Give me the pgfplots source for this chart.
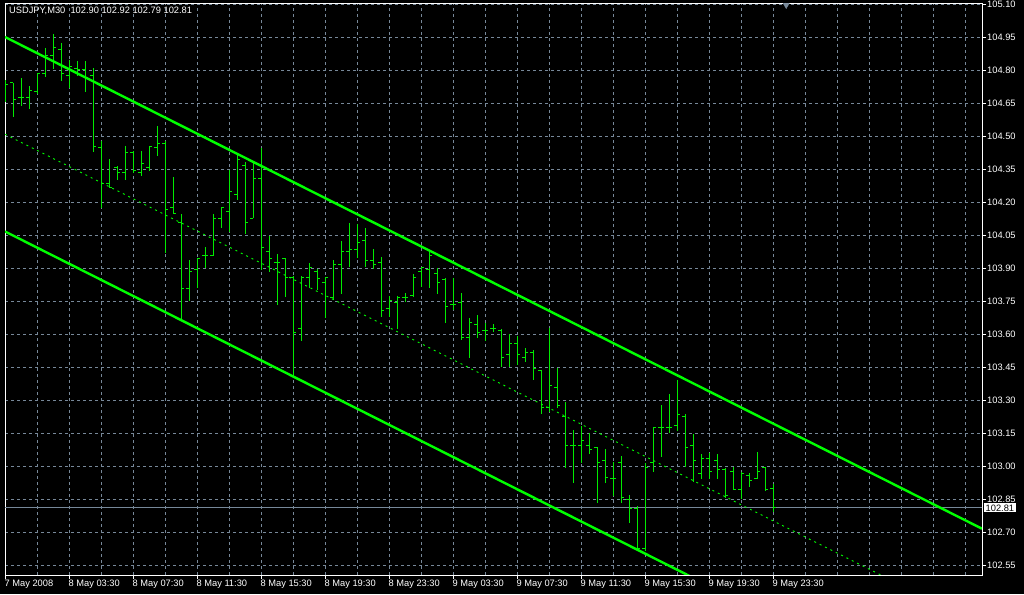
\documentclass[border=0pt]{standalone}
\usepackage{pgfplots}
\usepackage{pgfplotstable}
\usepackage{fontspec}
\setmainfont{Liberation Sans}
\pgfplotsset{compat=1.18}

\definecolor{bg}{RGB}{0,0,0}
\definecolor{gridc}{RGB}{119,136,153}
\definecolor{chan}{RGB}{0,255,0}
\definecolor{barc}{RGB}{0,235,0}

% half ticks for open (left) and close (right)
\pgfdeclareplotmark{ohlcopen}{\pgfpathmoveto{\pgfqpoint{-3pt}{0pt}}\pgfpathlineto{\pgfqpoint{0pt}{0pt}}\pgfusepathqstroke}
\pgfdeclareplotmark{ohlcclose}{\pgfpathmoveto{\pgfqpoint{0pt}{0pt}}\pgfpathlineto{\pgfqpoint{3pt}{0pt}}\pgfusepathqstroke}

% USDJPY M30, bar index from 7 May 23:30
\pgfplotstableread{
i O H L C
0 104.709 104.755 104.656 104.732
1 104.741 104.741 104.586 104.668
2 104.673 104.764 104.636 104.673
3 104.673 104.727 104.623 104.709
4 104.700 104.786 104.691 104.782
5 104.786 104.900 104.768 104.868
6 104.868 104.964 104.805 104.900
7 104.895 104.923 104.750 104.782
8 104.773 104.846 104.718 104.814
9 104.809 104.841 104.773 104.800
10 104.800 104.841 104.700 104.764
11 104.773 104.809 104.427 104.450
12 104.446 104.477 104.173 104.286
13 104.282 104.395 104.264 104.268
14 104.359 104.364 104.300 104.336
15 104.332 104.455 104.300 104.427
16 104.427 104.432 104.332 104.341
17 104.336 104.432 104.318 104.373
18 104.355 104.455 104.341 104.450
19 104.446 104.545 104.409 104.468
20 104.468 104.477 103.968 104.164
21 104.173 104.314 104.146 104.146
22 104.109 104.146 103.664 103.805
23 103.809 103.936 103.750 103.886
24 103.895 103.945 103.809 103.945
25 103.955 103.995 103.900 103.955
26 103.955 104.146 103.955 104.123
27 104.127 104.177 104.082 104.173
28 104.155 104.346 104.064 104.246
29 104.232 104.414 104.209 104.391
30 104.368 104.382 104.055 104.109
31 104.127 104.382 104.127 104.309
32 104.309 104.446 103.891 103.991
33 103.977 104.046 103.882 103.945
34 103.927 103.964 103.732 103.923
35 103.941 103.945 103.768 103.859
36 103.859 103.864 103.409 103.609
37 103.623 103.864 103.568 103.859
38 103.859 103.923 103.809 103.900
39 103.886 103.895 103.800 103.850
40 103.832 103.859 103.673 103.855
41 103.764 103.936 103.755 103.914
42 103.914 104.023 103.782 103.973
43 103.977 104.105 103.905 103.986
44 103.986 104.100 103.945 104.014
45 104.027 104.082 103.905 103.936
46 103.936 103.986 103.895 103.914
47 103.923 103.950 103.677 103.705
48 103.714 103.773 103.677 103.750
49 103.745 103.773 103.623 103.768
50 103.764 103.786 103.745 103.764
51 103.773 103.873 103.768 103.859
52 103.882 103.905 103.814 103.900
53 103.895 103.973 103.809 103.955
54 103.873 103.900 103.782 103.836
55 103.846 103.855 103.650 103.723
56 103.736 103.855 103.709 103.736
57 103.745 103.786 103.573 103.582
58 103.582 103.673 103.491 103.650
59 103.645 103.686 103.582 103.605
60 103.614 103.650 103.568 103.614
61 103.623 103.645 103.609 103.623
62 103.614 103.623 103.450 103.495
63 103.505 103.600 103.450 103.559
64 103.555 103.591 103.459 103.505
65 103.495 103.536 103.473 103.514
66 103.514 103.527 103.391 103.445
67 103.436 103.436 103.236 103.264
68 103.268 103.627 103.245 103.364
69 103.355 103.445 103.264 103.277
70 103.227 103.291 102.991 103.091
71 103.091 103.164 102.923 103.091
72 103.091 103.182 103.014 103.118
73 103.091 103.150 103.055 103.077
74 103.086 103.086 102.832 103.018
75 103.027 103.077 102.923 102.950
76 102.945 103.018 102.864 102.945
77 103.018 103.045 102.832 102.855
78 102.850 102.868 102.741 102.805
79 102.805 102.818 102.623 102.627
80 102.623 103.014 102.614 102.995
81 103.014 103.177 102.973 103.173
82 103.177 103.277 103.041 103.177
83 103.177 103.327 103.150 103.177
84 103.186 103.391 103.159 103.236
85 103.227 103.236 102.995 103.086
86 103.091 103.146 102.927 103.027
87 102.968 103.055 102.941 103.036
88 103.036 103.059 102.941 102.977
89 103.027 103.055 102.941 102.986
90 102.982 102.991 102.855 102.864
91 102.973 102.995 102.895 102.895
92 102.891 102.973 102.850 102.964
93 102.959 102.968 102.905 102.936
94 102.945 103.064 102.941 102.973
95 102.991 102.995 102.886 102.895
96 102.900 102.920 102.790 102.810
}\ohlc

\begin{document}
\begin{tikzpicture}
\path[fill=bg, use as bounding box] (0,0) rectangle (1024pt,594pt);
\begin{axis}[
  scale only axis, width=977pt, height=572pt,
  at={(5pt,19pt)}, anchor=south west,
  xmin=-0.05, xmax=122.075,
  ymin=102.5046, ymax=105.1045,
  axis line style={white, line width=0.8pt},
  font=\fontsize{9.3}{11}\selectfont,
  /pgf/number format/assume math mode=true,
  xtick={0,8,...,96},
  xticklabels={7 May 2008, 8 May 03:30, 8 May 07:30, 8 May 11:30, 8 May 15:30, 8 May 19:30, 8 May 23:30, 9 May 03:30, 9 May 07:30, 9 May 11:30, 9 May 15:30, 9 May 19:30, 9 May 23:30},
  minor xtick={4,12,20,28,36,44,52,60,68,76,84,92,100,104,108,112,116,120},
  ytick={102.55,102.70,102.85,103.00,103.15,103.30,103.45,103.60,103.75,103.90,104.05,104.20,104.35,104.50,104.65,104.80,104.95,105.10},
  yticklabels={102.55,102.70,102.85,103.00,103.15,103.30,103.45,103.60,103.75,103.90,104.05,104.20,104.35,104.50,104.65,104.80,104.95,105.10},
  xtick pos=bottom, ytick pos=right, yticklabel pos=right,
  tick align=outside, major tick length=4pt, minor tick length=0pt,
  tick style={white, line width=0.8pt},
  grid=both,
  grid style={gridc, line width=0.7pt, dash pattern=on 3pt off 3pt},
  minor grid style={gridc, line width=0.7pt, dash pattern=on 3pt off 3pt},
  xticklabel style={anchor=north west, inner sep=0pt, xshift=-1pt, yshift=-1pt, text=white},
  yticklabel style={anchor=west, inner sep=0pt, xshift=1pt, text=white},
  clip marker paths=true,
]
% current bid line
\addplot[gridc, line width=0.8pt] coordinates {(-1,102.81) (130,102.81)};
% high-low
\addplot[draw=none, mark=none, error bars/.cd, y dir=minus, y explicit, error mark=none,
  error bar style={barc, line width=1pt}]
  table[x=i, y=H, y error minus expr=\thisrow{H}-\thisrow{L}] {\ohlc};
\addplot[only marks, mark=ohlcopen, barc, mark options={line width=1pt}] table[x=i, y=O] {\ohlc};
\addplot[only marks, mark=ohlcclose, barc, mark options={line width=1pt}] table[x=i, y=C] {\ohlc};
% regression channel
\addplot[chan, line width=2.4pt] coordinates {(-0.05,104.950) (122.075,102.715)};
\addplot[chan, line width=0.9pt, dash pattern=on 2pt off 4pt] coordinates {(-0.05,104.508) (122.075,102.273)};
\addplot[chan, line width=2.4pt] coordinates {(-0.05,104.066) (122.075,101.831)};
% shift marker
\addplot[only marks, mark=triangle*, mark size=3.5pt, color=gridc, mark options={rotate=180}] coordinates {(97.6,105.095)};
\coordinate (bid) at (axis cs:122.075,102.81);
\end{axis}
\node[anchor=west, inner sep=0pt, text=white, font=\fontsize{9.3}{11}\selectfont] at (9pt,583pt) {USDJPY,M30\ \ 102.90 102.92 102.79 102.81};
\node[anchor=west, fill=white, text=black, inner xsep=1.5pt, inner ysep=1.2pt, text height=6.7pt, text depth=0pt, font=\fontsize{9.3}{11}\selectfont] at ([xshift=2pt]bid) {102.81};
\end{tikzpicture}
\end{document}
